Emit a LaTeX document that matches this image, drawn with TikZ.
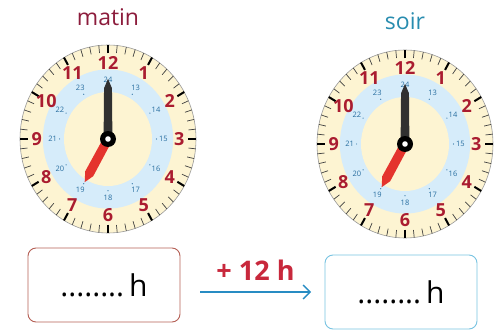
\documentclass[tikz,border=0pt]{standalone}
\usepackage{fontspec}
\setmainfont{Open Sans}
\usepackage{xcolor}
\definecolor{matincolor}{RGB}{140, 28, 60}
\definecolor{soircolor}{RGB}{40, 140, 175}
\definecolor{facecream}{RGB}{253, 244, 210}
\definecolor{ringblue}{RGB}{214, 236, 250}
\definecolor{hourred}{RGB}{170, 28, 48}
\definecolor{dayblue}{RGB}{40, 110, 160}
\definecolor{handred}{RGB}{228, 52, 45}
\definecolor{handgray}{RGB}{48, 48, 48}
\definecolor{boxred}{RGB}{180, 95, 85}
\definecolor{boxblue}{RGB}{120, 195, 225}
\definecolor{arrowblue}{RGB}{40, 140, 195}
\definecolor{plusred}{RGB}{200, 40, 60}
\usepackage{tikz}
\usetikzlibrary{positioning, arrows.meta}

\begin{document}
\begin{tikzpicture}[
  x=1pt, y=-1pt,
  title/.style={font=\fontsize{23}{23}\selectfont},
  hournum/.style={font=\fontsize{18}{18}\selectfont\bfseries, text=hourred, inner sep=0pt},
  daynum/.style={font=\fontsize{7.5}{7.5}\selectfont, text=dayblue, inner sep=0pt},
  answer/.style={rectangle, rounded corners=8pt, line width=0.9pt, minimum width=152pt, minimum height=74pt, align=center, font=\fontsize{30}{30}\selectfont},
  arrow/.style={-{Straight Barb[length=7pt, width=14pt]}, draw=arrowblue, line width=1.4pt}
]
  \useasboundingbox (0,0) rectangle (503,331);

  % Titles
  \node[title, text=matincolor] (matin) at (108,17) {matin};
  \node[title, text=soircolor] (soir) at (405,21) {soir};

  % Clocks
  \foreach \cx/\cy in {108/139, 405/144} {
    \begin{scope}[shift={(\cx,\cy)}, x=88pt, y=94pt]
      \fill[facecream] (0,0) ellipse (1 and 1);
      \fill[ringblue] (0,0) ellipse (0.74 and 0.74);
      \fill[facecream] (0,0) ellipse (0.5 and 0.5);
      \draw[gray!80, line width=0.6pt] (0,0) ellipse (1 and 1);
      \foreach \m in {0,...,59}
        \draw[black!75, line width=0.7pt] (\m*6:0.92) -- (\m*6:1);
      \foreach \h in {0,...,11}
        \draw[black, line width=2pt] (\h*30:0.91) -- (\h*30:1);
      \foreach \h in {1,...,12} {
        \node[hournum] at (90-\h*30:0.81) {\h};
        \pgfmathtruncatemacro{\d}{\h+12}
        \node[daynum] at (90-\h*30:0.63) {\d};
        \fill[dayblue] (90-\h*30:0.55) circle (0.6pt);
      }
      % Hands
      \fill[handgray] (-0.05,0) -- (-0.045,0.54) -- (0,0.64) -- (0.045,0.54) -- (0.05,0) -- cycle;
      \fill[handred] (-30:0.05) -- (-113:0.43) -- (-120:0.53) -- (-127:0.43) -- (150:0.05) -- cycle;
      \fill[black] (0,0) circle (8pt);
      \fill[white] (0,0) circle (2.8pt);
    \end{scope}
  }

  % Answer boxes
  \node[answer, draw=boxred] (matinbox) at (104,285) {........\,h};
  \node[answer, draw=boxblue] (soirbox) at (401,292) {........\,h};

  % Arrow
  \coordinate (arrowstart) at (200,292);
  \coordinate (arrowend) at (311,292);
  \draw[arrow] (arrowstart) -- (arrowend)
    node[midway, above=7pt, font=\fontsize{27}{27}\selectfont\bfseries, text=plusred] (plus) {+ 12 h};
\end{tikzpicture}
\end{document}
